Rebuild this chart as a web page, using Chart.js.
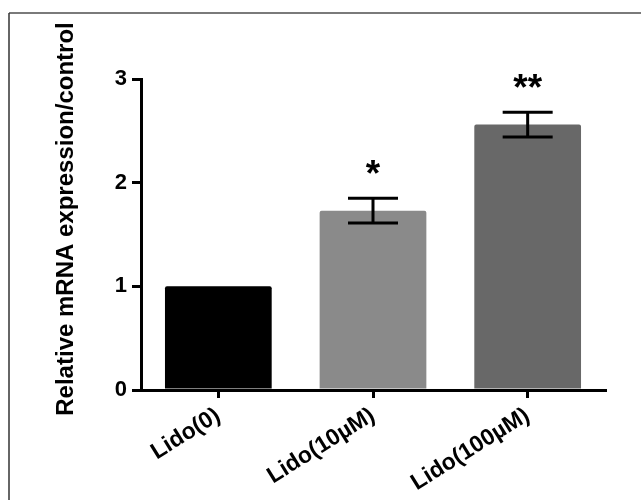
<!DOCTYPE html>
<html>
<head>
  <title>Relative mRNA expression</title>
  <script src="https://cdn.jsdelivr.net/npm/chart.js"></script>
  <style>
    body { margin: 0; background: #fff; }
    #wrap { width: 641px; height: 500px; }
  </style>
</head>
<body>
  <div id="wrap"><canvas id="chart" width="641" height="500"></canvas></div>

  <script>
    // data
    var categories = ['Lido(0)', 'Lido(10\u00b5M)', 'Lido(100\u00b5M)'];
    var means = [1.0, 1.73, 2.56];
    var errors = [0, 0.12, 0.12];
    var stars = ['', '*', '**'];
    var barColors = ['#000000', '#8a8a8a', '#686868'];
    var yTicks = [0, 1, 2, 3];
    var yTitle = 'Relative mRNA expression/control';

    var FONT = '"Liberation Sans", Arial, sans-serif';

    // grey frame round the figure
    var framePlugin = {
      id: 'frame',
      beforeDraw: function (chart) {
        var c = chart.ctx;
        c.save();
        c.strokeStyle = '#7a7a7a';
        c.lineWidth = 2;
        c.beginPath();
        c.moveTo(9, 13);
        c.lineTo(641, 13);
        c.stroke();
        c.strokeStyle = '#333';
        c.lineWidth = 1.5;
        c.beginPath();
        c.moveTo(9, 13);
        c.lineTo(9, 500);
        c.stroke();
        c.restore();
      }
    };

    // error bars, significance stars and the y title
    var extrasPlugin = {
      id: 'extras',
      afterDatasetsDraw: function (chart) {
        var c = chart.ctx;
        var y = chart.scales.y;
        var meta = chart.getDatasetMeta(0);
        c.save();
        c.strokeStyle = '#000';
        c.lineWidth = 3;
        meta.data.forEach(function (bar, i) {
          if (!errors[i]) return;
          var top = y.getPixelForValue(means[i] + errors[i]);
          var bot = y.getPixelForValue(means[i] - errors[i]);
          c.beginPath();
          c.moveTo(bar.x, top); c.lineTo(bar.x, bot);
          c.moveTo(bar.x - 25, top); c.lineTo(bar.x + 25, top);
          c.moveTo(bar.x - 25, bot); c.lineTo(bar.x + 25, bot);
          c.stroke();
        });
        c.fillStyle = '#000';
        c.font = 'bold 37px ' + FONT;
        c.textAlign = 'center';
        c.textBaseline = 'alphabetic';
        meta.data.forEach(function (bar, i) {
          if (!stars[i]) return;
          var top = y.getPixelForValue(means[i] + errors[i]);
          c.fillText(stars[i], bar.x, top - 12);
        });
        c.translate(66, 219);
        c.rotate(-Math.PI / 2);
        c.font = 'bold 24px ' + FONT;
        c.textBaseline = 'middle';
        c.fillText(yTitle, 0, 0);
        c.restore();
      }
    };

    var ctx = document.getElementById('chart').getContext('2d');
    var chart = new Chart(ctx, {
      type: 'bar',
      data: {
        labels: categories,
        datasets: [{
          data: means,
          backgroundColor: barColors,
          borderWidth: 0,
          borderRadius: 2,
          borderSkipped: 'bottom',
          barPercentage: 0.69,
          categoryPercentage: 1
        }]
      },
      options: {
        responsive: false,
        animation: false,
        layout: { padding: { top: 79, right: 36, left: 0, bottom: 0 } },
        plugins: {
          legend: { display: false },
          tooltip: { enabled: false }
        },
        scales: {
          x: {
            afterFit: function (s) { s.height = 110; },
            border: { display: true, color: '#000', width: 3 },
            grid: {
              display: true, drawOnChartArea: false, drawTicks: true,
              offset: false, tickLength: 8, color: '#000', lineWidth: 3
            },
            ticks: {
              color: '#000', minRotation: 32, maxRotation: 32, padding: 4,
              font: { family: FONT, size: 23, weight: 'bold' }
            }
          },
          y: {
            min: 0, max: 3,
            afterFit: function (s) { s.width = 141; },
            afterBuildTicks: function (s) {
              s.ticks = yTicks.map(function (v) { return { value: v }; });
            },
            border: { display: true, color: '#000', width: 3 },
            grid: {
              display: true, drawOnChartArea: false, drawTicks: true,
              tickLength: 9, color: '#000', lineWidth: 3
            },
            ticks: {
              color: '#000', padding: 5,
              font: { family: FONT, size: 22, weight: 'bold' }
            }
          }
        }
      },
      plugins: [framePlugin, extrasPlugin]
    });
  </script>
</body>
</html>
